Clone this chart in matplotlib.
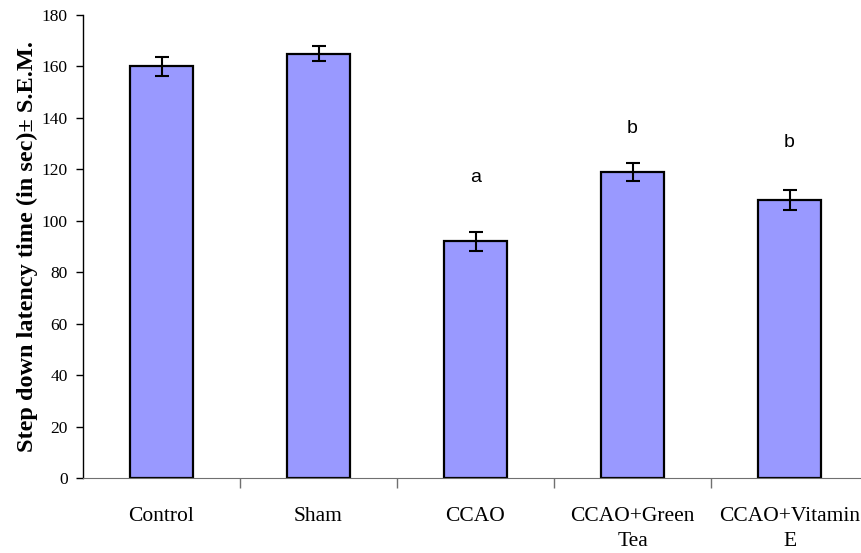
import matplotlib.pyplot as plt
import numpy as np

# Данные
groups = ["Control", "Sham", "CCAO", "CCAO+Green\nTea", "CCAO+Vitamin\nE"]
latency = [160, 165, 92, 119, 108]
sem = [3.7, 3.0, 3.7, 3.5, 3.8]
marks = ["", "", "a", "b", "b"]
mark_y = [0, 0, 117, 136, 130.5]

plt.rcParams['font.family'] = ['Liberation Serif', 'DejaVu Serif']

fig = plt.figure(figsize=(8.61, 5.53), dpi=100)
ax = fig.add_axes([83 / 861, 75 / 553, 785 / 861, 463 / 553])

x = np.arange(len(groups))
ax.bar(x, latency, width=0.4, color='#9999FF', edgecolor='black', linewidth=1.6, zorder=2)
ax.errorbar(x, latency, yerr=sem, fmt='none', ecolor='black', elinewidth=1.5,
            capsize=5, capthick=1.5, zorder=3)

for xi, m, my in zip(x, marks, mark_y):
    if m:
        ax.text(xi, my, m, ha='center', va='center', fontsize=14,
                family='Liberation Sans')

ax.set_xlim(-0.5, len(groups) - 0.5)
ax.set_ylim(0, 180)
ax.set_yticks(np.arange(0, 181, 20))
ax.tick_params(axis='y', labelsize=12.5, length=5, width=1, pad=6)

ax.set_xticks(x)
ax.set_xticklabels(groups, fontsize=15.5, linespacing=1.45)
ax.tick_params(axis='x', length=0, pad=21)
ax.set_xticks(np.arange(0.5, len(groups) - 0.5, 1), minor=True)
ax.tick_params(axis='x', which='minor', length=7, width=1, color='#707070', direction='out')

ax.spines['top'].set_visible(False)
ax.spines['right'].set_visible(False)
ax.spines['bottom'].set_color('#707070')
ax.spines['left'].set_linewidth(1)

ax.set_ylabel("Step down latency time (in sec)± S.E.M.", fontsize=17.5,
              fontweight='bold')
ax.yaxis.set_label_coords(-0.057, 0.5)

fig.savefig("out.png", dpi=100)
